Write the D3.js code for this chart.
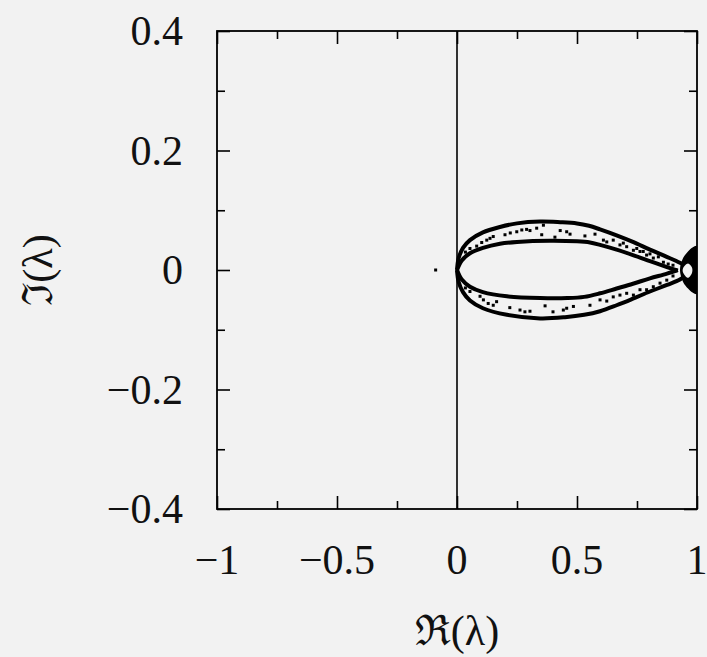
<!DOCTYPE html>
<html>
<head>
<meta charset="utf-8">
<script src="https://cdn.jsdelivr.net/npm/d3@7"></script>
<style>
  html, body { margin: 0; padding: 0; background: #f2f2f2; }
  svg { display: block; }
</style>
</head>
<body>
<svg id="chart"></svg>
<script>
// axis ticks
const xMajor = [-1, -0.5, 0, 0.5, 1];
const xMinor = [-0.75, -0.25, 0.25, 0.75];
const xLabels = ["\u22121", "\u22120.5", "0", "0.5", "1"];
const yMajor = [0.4, 0.2, 0, -0.2, -0.4];
const yMinor = [0.3, 0.1, -0.1, -0.3];
const yLabels = ["0.4", "0.2", "0", "\u22120.2", "\u22120.4"];

// boundary curves of the eigenvalue band  [Re, Im]
const upperOuter = [[0,0],[0.007,0.02],[0.025,0.037],[0.054,0.050],[0.108,0.063],[0.179,0.072],[0.25,0.078],[0.346,0.081],[0.43,0.080],[0.5,0.078],[0.55,0.074],[0.596,0.068],[0.665,0.058],[0.733,0.047],[0.804,0.034],[0.874,0.022],[0.929,0.012],[0.96,0.005]];
const upperInner = [[0,0],[0.02,0.016],[0.054,0.028],[0.108,0.037],[0.179,0.044],[0.25,0.047],[0.3875,0.049],[0.5,0.048],[0.554,0.046],[0.596,0.042],[0.665,0.034],[0.733,0.025],[0.804,0.015],[0.875,0.005],[0.92,-0.001]];
const lowerInner = [[0,0],[0.02,-0.016],[0.054,-0.028],[0.108,-0.037],[0.208,-0.044],[0.346,-0.047],[0.46,-0.047],[0.53,-0.045],[0.596,-0.039],[0.665,-0.031],[0.733,-0.023],[0.804,-0.014],[0.875,-0.006],[0.92,0.0]];
const lowerOuter = [[0,0],[0.007,-0.02],[0.025,-0.037],[0.054,-0.051],[0.108,-0.064],[0.208,-0.075],[0.346,-0.081],[0.45,-0.079],[0.53,-0.075],[0.596,-0.069],[0.665,-0.059],[0.733,-0.048],[0.804,-0.036],[0.875,-0.025],[0.929,-0.016],[0.96,-0.006]];

// blob where the band hits Re = 1, and the light gap inside it
const blob = [[0.929,0],[0.942,0.020],[0.9625,0.031],[0.983,0.038],[1.0,0.040],[1.0,-0.040],[0.983,-0.038],[0.9625,-0.031],[0.942,-0.020]];
const hole = [[0.942,0.003],[0.9625,0.011],[0.979,0.004],[0.979,-0.005],[0.9625,-0.013],[0.942,-0.004]];

// scattered eigenvalues inside the band
const upperDots = [[0.035,0.030],[0.054,0.036],[0.082,0.040],[0.103,0.046],[0.124,0.050],[0.1375,0.053],[0.151,0.056],[0.2,0.059],[0.222,0.062],[0.249,0.064],[0.27,0.067],[0.29,0.068],[0.304,0.066],[0.332,0.070],[0.353,0.059],[0.36,0.075],[0.408,0.055],[0.43,0.066],[0.457,0.064],[0.471,0.060],[0.533,0.057],[0.575,0.060],[0.61,0.050],[0.624,0.047],[0.651,0.050],[0.679,0.042],[0.693,0.045],[0.707,0.039],[0.735,0.033],[0.749,0.036],[0.7625,0.031],[0.776,0.031],[0.79,0.025],[0.804,0.027],[0.818,0.020],[0.839,0.022],[0.86,0.013],[0.88,0.010],[0.9,0.008]];
const lowerDots = [[0.035,-0.030],[0.054,-0.036],[0.096,-0.044],[0.11,-0.050],[0.13,-0.056],[0.151,-0.059],[0.165,-0.053],[0.22,-0.063],[0.2625,-0.067],[0.283,-0.070],[0.304,-0.069],[0.367,-0.060],[0.4,-0.070],[0.443,-0.067],[0.457,-0.064],[0.485,-0.061],[0.554,-0.059],[0.596,-0.050],[0.624,-0.052],[0.651,-0.045],[0.679,-0.042],[0.707,-0.039],[0.735,-0.042],[0.7625,-0.033],[0.79,-0.033],[0.818,-0.028],[0.846,-0.022],[0.874,-0.017],[0.9,-0.010]];
const strayDots = [[-0.089,0.0]];

const W = 707, H = 657;
const margin = {top: 31, right: 10, bottom: 148, left: 217};
const iw = W - margin.left - margin.right, ih = H - margin.top - margin.bottom;
const bg = '#f2f2f2';
const font = '"Liberation Serif", "DejaVu Serif", serif';

const svg = d3.select('#chart').attr('width', W).attr('height', H);
svg.append('rect').attr('width', W).attr('height', H).attr('fill', bg);

const x = d3.scaleLinear().domain([-1, 1]).range([0, iw]);
const y = d3.scaleLinear().domain([-0.4, 0.4]).range([ih, 0]);

const g = svg.append('g').attr('transform', `translate(${margin.left},${margin.top})`);

svg.append('defs').append('clipPath').attr('id', 'clip')
  .append('rect').attr('width', iw).attr('height', ih);

//ticks, inward on all four sides
function ticks(axis, vals, size, tr) {
  g.append('g').attr('transform', tr)
    .call(axis.tickValues(vals).tickSize(size).tickFormat(''))
    .call(s => s.select('.domain').remove())
    .call(s => s.selectAll('line').attr('stroke', '#000').attr('stroke-width', 1.6));
}
ticks(d3.axisBottom(x), xMajor, -13, `translate(0,${ih})`);
ticks(d3.axisBottom(x), xMinor, -8, `translate(0,${ih})`);
ticks(d3.axisTop(x), xMajor, -13, 'translate(0,0)');
ticks(d3.axisTop(x), xMinor, -8, 'translate(0,0)');
ticks(d3.axisLeft(y), yMajor, -13, 'translate(0,0)');
ticks(d3.axisLeft(y), yMinor, -8, 'translate(0,0)');
ticks(d3.axisRight(y), yMajor, -13, `translate(${iw},0)`);
ticks(d3.axisRight(y), yMinor, -8, `translate(${iw},0)`);

// tick labels
g.selectAll('.xl').data(xMajor).enter().append('text')
  .attr('x', d => x(d)).attr('y', ih + 65)
  .attr('text-anchor', 'middle')
  .attr('font-family', font).attr('font-size', 42).attr('fill', '#111')
  .text((d, i) => xLabels[i]);
g.selectAll('.yl').data(yMajor).enter().append('text')
  .attr('x', -34).attr('y', d => y(d) + 14)
  .attr('text-anchor', 'end')
  .attr('font-family', font).attr('font-size', 42).attr('fill', '#111')
  .text((d, i) => yLabels[i]);

// axis titles
svg.append('text')
  .attr('x', margin.left + x(0)).attr('y', 645)
  .attr('text-anchor', 'middle')
  .attr('font-family', font).attr('font-size', 42).attr('fill', '#111')
  .text('\u211C(\u03BB)');
svg.append('text')
  .attr('transform', `translate(52, ${margin.top + y(0)}) rotate(-90)`)
  .attr('text-anchor', 'middle')
  .attr('font-family', font).attr('font-size', 42).attr('fill', '#111')
  .text('\u2111(\u03BB)');

// x = 0 line
g.append('line')
  .attr('x1', x(0)).attr('x2', x(0)).attr('y1', 0).attr('y2', ih)
  .attr('stroke', '#000').attr('stroke-width', 1.6);

const plot = g.append('g').attr('clip-path', 'url(#clip)');

const line = d3.line().x(d => x(d[0])).y(d => y(d[1])).curve(d3.curveCatmullRom.alpha(0.5));
const closed = d3.line().x(d => x(d[0])).y(d => y(d[1])).curve(d3.curveCatmullRomClosed.alpha(0.5));

[upperOuter, upperInner, lowerInner, lowerOuter].forEach(c => {
  plot.append('path').attr('d', line(c))
    .attr('fill', 'none').attr('stroke', '#000').attr('stroke-width', 4)
    .attr('stroke-linejoin', 'round');
});

plot.append('path').attr('d', closed(blob)).attr('fill', '#000');
plot.append('path').attr('d', closed(hole)).attr('fill', bg);

plot.selectAll('.dot')
  .data(upperDots.concat(lowerDots, strayDots))
  .enter().append('rect')
  .attr('x', d => x(d[0]) - 1.5).attr('y', d => y(d[1]) - 1.5)
  .attr('width', 3).attr('height', 3)
  .attr('fill', '#000');

// frame
g.append('rect').attr('width', iw).attr('height', ih)
  .attr('fill', 'none').attr('stroke', '#000').attr('stroke-width', 1.8);
</script>
</body>
</html>
